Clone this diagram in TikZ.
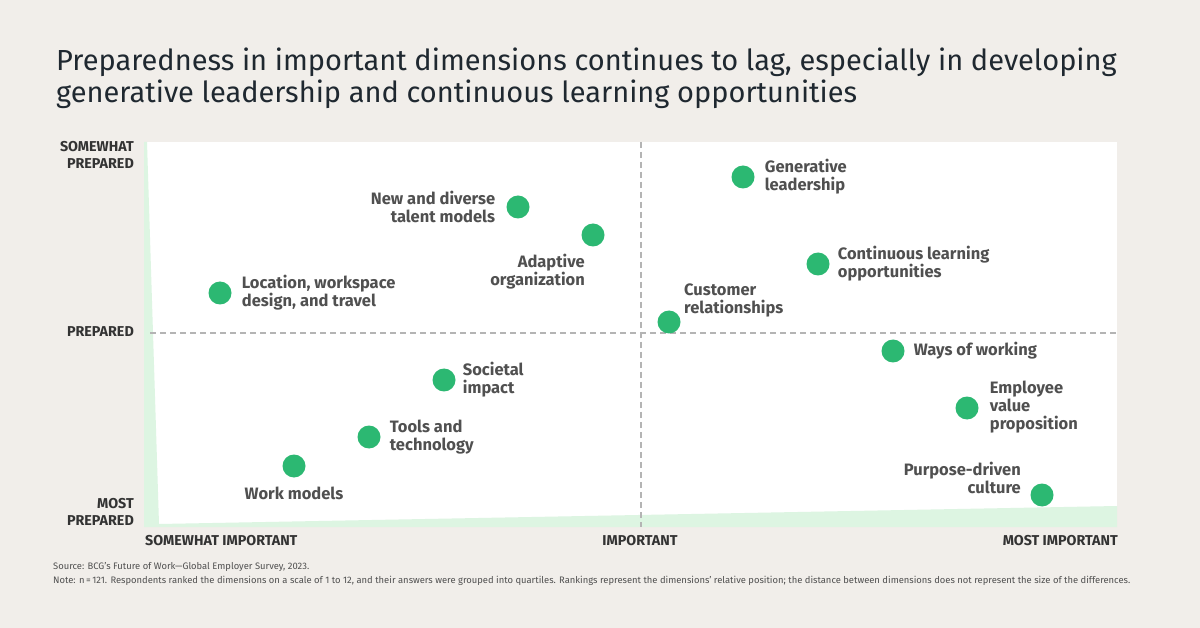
\documentclass[tikz,border=0pt]{standalone}
\usepackage{fontspec}
\setmainfont{Fira Sans}
\definecolor{bgc}{HTML}{F1EEEA}
\definecolor{bcggreen}{HTML}{2CB872}
\definecolor{paleg}{HTML}{DDF5E2}
\definecolor{lblgray}{HTML}{505050}
\definecolor{axgray}{HTML}{333333}
\definecolor{titlec}{HTML}{1F2830}
\definecolor{dashc}{HTML}{B4B4B4}
\begin{document}
\begin{tikzpicture}[x=1pt,y=-1pt,
  dot/.style={circle,fill=bcggreen,minimum size=23pt,inner sep=0pt},
  lbl/.style={font=\fontsize{16.5}{18}\selectfont\bfseries,text=lblgray,inner sep=0pt},
  axl/.style={font=\fontsize{14.3}{17}\selectfont\bfseries,text=axgray,inner sep=0pt},
  ttl/.style={font=\fontsize{29}{32}\selectfont,text=titlec,inner sep=0pt,align=left},
  fnote/.style={font=\fontsize{9.4}{14}\selectfont,text=lblgray,inner sep=0pt,align=left},
  guide/.style={dashc,line width=1.1pt,dash pattern=on 6pt off 4pt}]
\fill[bgc] (0,0) rectangle (1200,628);
\useasboundingbox (0,0) rectangle (1200,628);
% plot area
\fill[white] (144,142) rectangle (1117,527);
\fill[paleg] (144,142) -- (147,142) -- (159,524) -- (1117,506) -- (1117,527) -- (144,527) -- cycle;
\coordinate (vt) at (641,142);
\coordinate (vb) at (641,527);
\coordinate (hl) at (150,333);
\coordinate (hr) at (1117,333);
\draw[guide] (vt) -- (vb);
\draw[guide] (hl) -- (hr);
% title
\node[ttl,anchor=base west] (title) at (56,103) {Preparedness in important dimensions continues to lag, especially in developing\\generative leadership and continuous learning opportunities};
% axis labels
\node[axl,anchor=north east,align=right] (ysp) at (134,141) {SOMEWHAT\\PREPARED};
\node[axl,anchor=east] (yp) at (134,332) {PREPARED};
\node[axl,anchor=south east,align=right] (ymp) at (134,526) {MOST\\PREPARED};
\node[axl,anchor=west] (xsi) at (145,541) {SOMEWHAT IMPORTANT};
\node[axl] (xi) at (640,541) {IMPORTANT};
\node[axl,anchor=east] (xmi) at (1118,541) {MOST IMPORTANT};
% dots
\node[dot] (gl) at (743,177) {};
\node[dot] (nd) at (518,207) {};
\node[dot] (ao) at (593,235) {};
\node[dot] (cl) at (818,264) {};
\node[dot] (lw) at (220,293) {};
\node[dot] (cr) at (669,322) {};
\node[dot] (ww) at (893,351) {};
\node[dot] (si) at (444,380) {};
\node[dot] (ev) at (967,408) {};
\node[dot] (tt) at (369,437) {};
\node[dot] (wm) at (294,466) {};
\node[dot] (pd) at (1042,495) {};
% labels
\node[lbl,anchor=west,align=left] (lgl) at ([xshift=10pt]gl.east) {Generative\\leadership};
\node[lbl,anchor=east,align=right] (lnd) at ([xshift=-11pt]nd.west) {New and diverse\\talent models};
\node[lbl,anchor=east,align=right] (lao) at (585,272) {Adaptive\\organization};
\node[lbl,anchor=west,align=left] (lcl) at ([xshift=8pt]cl.east) {Continuous learning\\opportunities};
\node[lbl,anchor=west,align=left] (llw) at ([xshift=10pt]lw.east) {Location, workspace\\design, and travel};
\node[lbl,anchor=west,align=left] (lcr) at (684,300) {Customer\\relationships};
\node[lbl,anchor=west,align=left] (lww) at ([xshift=9pt]ww.east) {Ways of working};
\node[lbl,anchor=west,align=left] (lsi) at ([xshift=7pt]si.east) {Societal\\impact};
\node[lbl,anchor=west,align=left] (lev) at ([xshift=11pt,yshift=1pt]ev.east) {Employee\\value\\proposition};
\node[lbl,anchor=west,align=left] (ltt) at ([xshift=9pt]tt.east) {Tools and\\technology};
\node[lbl] (lwm) at (294,493) {Work models};
\node[lbl,anchor=east,align=right] (lpd) at (1021,478) {Purpose-driven\\culture};
% footnotes
\node[fnote,anchor=base west] (fn) at (53,583) {Source: BCG's Future of Work---Global Employer Survey, 2023.\\Note: n\,=\,121. Respondents ranked the dimensions on a scale of 1 to 12, and their answers were grouped into quartiles. Rankings represent the dimensions' relative position; the distance between dimensions does not represent the size of the differences.};
\end{tikzpicture}
\end{document}
